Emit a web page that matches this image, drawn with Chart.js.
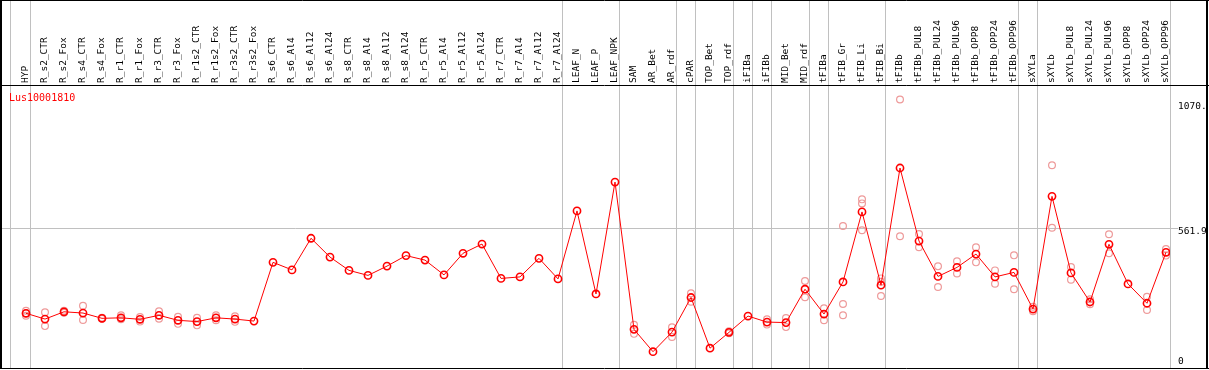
<!DOCTYPE html>
<html><head><meta charset="utf-8">
<script src="https://cdn.jsdelivr.net/npm/chart.js@4.4.1/dist/chart.umd.min.js"></script>
<style>html,body{margin:0;padding:0;background:#fff;overflow:hidden}#wrap{width:1209px;height:370px;position:relative}</style>
</head><body><div id="wrap"><canvas id="c"></canvas></div>
<script>
const geneName = 'Lus10001810';
const categories = ['HYP','R_s2_CTR','R_s2_Fox','R_s4_CTR','R_s4_Fox','R_r1_CTR','R_r1_Fox','R_r3_CTR','R_r3_Fox','R_r1s2_CTR','R_r1s2_Fox','R_r3s2_CTR','R_r3s2_Fox','R_s6_CTR','R_s6_Al4','R_s6_Al12','R_s6_Al24','R_s8_CTR','R_s8_Al4','R_s8_Al12','R_s8_Al24','R_r5_CTR','R_r5_Al4','R_r5_Al12','R_r5_Al24','R_r7_CTR','R_r7_Al4','R_r7_Al12','R_r7_Al24','LEAF_N','LEAF_P','LEAF_NPK','SAM','AR_Bet','AR_rdf','cPAR','TOP_Bet','TOP_rdf','iFIBa','iFIBb','MID_Bet','MID_rdf','tFIBa','tFIB_Gr','tFIB_Li','tFIB_Bi','tFIBb','tFIBb_PUL8','tFIBb_PUL24','tFIBb_PUL96','tFIBb_OPP8','tFIBb_OPP24','tFIBb_OPP96','sXYLa','sXYLb','sXYLb_PUL8','sXYLb_PUL24','sXYLb_PUL96','sXYLb_OPP8','sXYLb_OPP24','sXYLb_OPP96'];
const means = [218,195,224,219,198,200,194,210,190,185,200,195,187,421,391,517,442,389,369,406,448,430,371,457,494,357,363,437,355,626,295,741,154,65,143,281,79,142,207,183,181,314,215,343,622,330,797,506,365,401,454,363,381,235,684,379,263,493,335,258,461];
const replicates = [[228,218,208],[222,167],[228,220],[248,191],[200,196],[210,194],[203,185],[226,196],[204,176],[200,170],[210,190],[206,184],[],[],[],[],[],[],[],[],[],[],[],[],[],[],[],[],[],[],[],[],[172,136],[],[162,124],[298,264],[],[146,138],[],[194,173],[199,163],[347,282],[238,190],[566,255,210],[672,656,549],[357,344,287],[1070,525],[534,481],[405,323],[425,377],[481,421],[389,336],[449,314],[244,226],[808,559],[402,352],[274,254],[533,457],[],[284,231],[474,448]];
const groupSizes = [1,28,3,3,1,2,1,1,2,1,3,7,1,7];
const yTickValues = [0, 561.9, 1070];
const yTickLabels = ['0', '561.9', '1070.'];
const yMax = 1123.8;
const yLabelShiftPx = [-6.5, 5, 7.5];

const repPoints = [];
replicates.forEach((arr, i) => arr.forEach(v => repPoints.push({x: i, y: v})));

const FONT = 'DejaVu Sans Mono';
const XFONT = 9.5;
const decor = {
  id: 'decor',
  beforeDatasetsDraw(chart) {
    const {ctx, chartArea: a, scales: {x, y}} = chart;
    const bottom = Math.round(a.bottom);
    ctx.save();
    ctx.strokeStyle = '#c0c0c0';
    ctx.lineWidth = 1;
    ctx.beginPath();
    const lx = Math.floor(x.getPixelForValue(x.min)) - 0.5;
    ctx.moveTo(lx, 0); ctx.lineTo(lx, bottom);
    let end = -1;
    groupSizes.forEach(g => {
      end += g;
      const px = Math.floor(x.getPixelForValue(end) + 4.5) + 0.5;
      ctx.moveTo(px, 0); ctx.lineTo(px, bottom);
    });
    const hy = Math.round(y.getPixelForValue(yTickValues[1])) + 1.5;
    ctx.moveTo(1, hy); ctx.lineTo(a.right + 8, hy);
    ctx.stroke();
    ctx.restore();
  },
  afterDraw(chart) {
    const {ctx, chartArea: a, width} = chart;
    const top = Math.round(a.top), bottom = Math.round(a.bottom);
    ctx.save();
    ctx.strokeStyle = '#000';
    ctx.lineWidth = 1;
    ctx.beginPath();
    ctx.moveTo(0, 0.5); ctx.lineTo(width, 0.5);
    ctx.moveTo(0, top - 0.5); ctx.lineTo(width, top - 0.5);
    ctx.moveTo(0, bottom + 0.5); ctx.lineTo(width, bottom + 0.5);
    ctx.stroke();
    ctx.lineWidth = 2;
    ctx.beginPath();
    ctx.moveTo(1, 0); ctx.lineTo(1, bottom + 1);
    ctx.moveTo(1207, 0); ctx.lineTo(1207, bottom + 1);
    ctx.stroke();
    ctx.fillStyle = '#ff0000';
    ctx.font = '10px "' + FONT + '"';
    ctx.textBaseline = 'alphabetic';
    ctx.textAlign = 'left';
    ctx.fillText(geneName, 9, top + 15);
    ctx.restore();
  }
};

new Chart(document.getElementById('c'), {
  type: 'scatter',
  data: {
    datasets: [
      {
        label: 'mean',
        data: means.map((v, i) => ({x: i, y: v})),
        showLine: true,
        borderColor: '#ff0000',
        borderWidth: 1,
        pointRadius: 3.6,
        pointBorderWidth: 1.6,
        pointBorderColor: '#ff0000',
        pointBackgroundColor: 'rgba(0,0,0,0)',
        tension: 0,
        order: 0
      },
      {
        label: 'replicates',
        data: repPoints,
        showLine: false,
        pointRadius: 3.4,
        pointBorderWidth: 1.2,
        pointBorderColor: '#ee9a9a',
        pointBackgroundColor: 'rgba(0,0,0,0)',
        order: 1
      }
    ]
  },
  options: {
    responsive: true,
    maintainAspectRatio: false,
    animation: false,
    devicePixelRatio: 1,
    events: [],
    layout: {autoPadding: false, padding: {left: 11, right: 0, top: 0, bottom: 2}},
    plugins: {legend: {display: false}, tooltip: {enabled: false}, title: {display: false}},
    scales: {
      x: {
        type: 'linear', position: 'top', bounds: 'data',
        min: -15 / 19, max: 60 + 4 / 19,
        grid: {display: false, drawTicks: false}, border: {display: false},
        afterBuildTicks: s => { s.ticks = categories.map((c, i) => ({value: i})); },
        afterFit: s => { s.height = 86; },
        ticks: {
          autoSkip: false, minRotation: 90, maxRotation: 90, padding: 3, color: '#000',
          labelOffset: XFONT * 1.2,
          font: {family: FONT, size: XFONT, lineHeight: 1.2},
          callback: v => categories[v] ?? ''
        }
      },
      y: {
        type: 'linear', position: 'right', bounds: 'data',
        min: 0, max: yMax,
        grid: {display: false, drawTicks: true, tickLength: 8}, border: {display: false},
        afterBuildTicks: s => { s.ticks = yTickValues.map((v, i) => ({value: v - yLabelShiftPx[i] * yMax / 282})); },
        afterFit: s => { s.width = 39; },
        ticks: {
          padding: 0, color: '#000',
          font: {family: FONT, size: 9.5, lineHeight: 4 / 9.5},
          callback: (v, i) => yTickLabels[i]
        }
      }
    }
  },
  plugins: [decor]
});
</script>
</body></html>
